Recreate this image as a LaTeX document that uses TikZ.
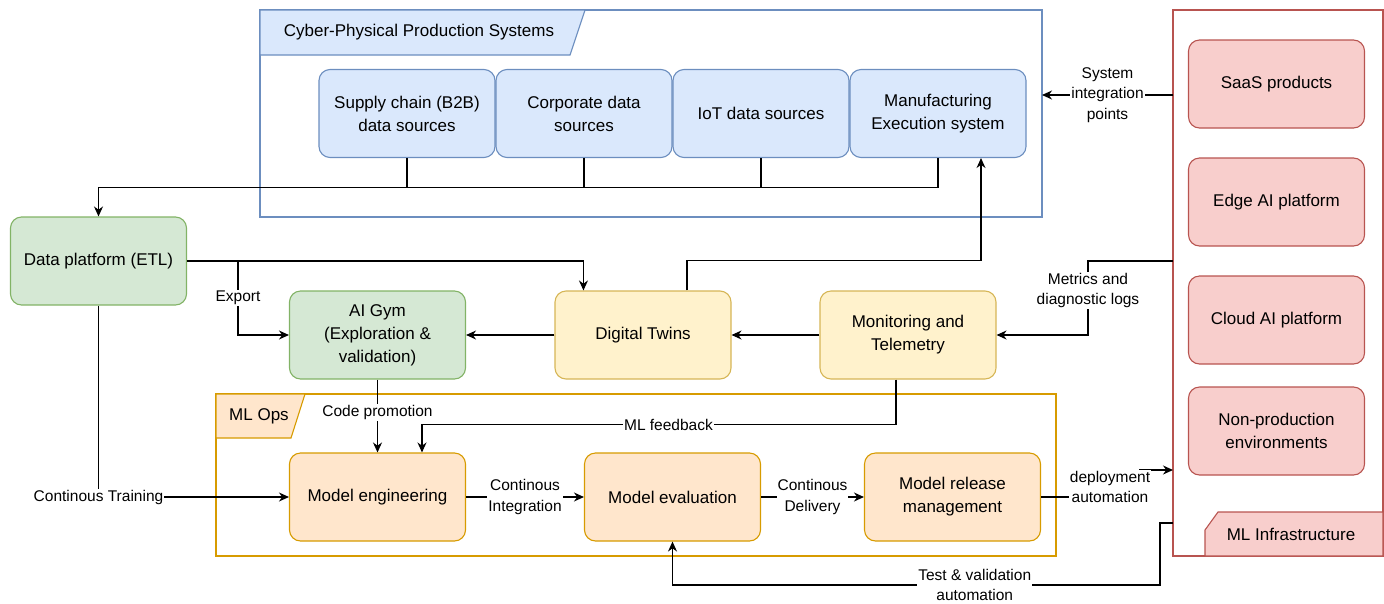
\documentclass[tikz,border=0pt]{standalone}
\usepackage{fontspec}
\setmainfont{Liberation Sans}
\usetikzlibrary{arrows.meta,positioning}

\definecolor{blueFill}{HTML}{DAE8FC}
\definecolor{blueLine}{HTML}{6C8EBF}
\definecolor{greenFill}{HTML}{D5E8D4}
\definecolor{greenLine}{HTML}{82B366}
\definecolor{yellowFill}{HTML}{FFF2CC}
\definecolor{yellowLine}{HTML}{D6B656}
\definecolor{orangeFill}{HTML}{FFE6CC}
\definecolor{orangeLine}{HTML}{D79B00}
\definecolor{redFill}{HTML}{F8CECC}
\definecolor{redLine}{HTML}{B85450}

\begin{document}
\begin{tikzpicture}[x=1pt,y=-1pt,>={Stealth[length=10pt,width=9pt]},
                    line width=1.2pt,node distance=177pt,
                    every node/.style={font=\fontsize{17}{23}\selectfont}]
  \tikzstyle{box}=[rectangle,rounded corners=11pt,draw,line width=1.1pt,
                   minimum width=176pt,minimum height=88pt,align=center]
  \tikzstyle{cpps}=[box,fill=blueFill,draw=blueLine]
  \tikzstyle{gym}=[box,fill=greenFill,draw=greenLine]
  \tikzstyle{twin}=[box,fill=yellowFill,draw=yellowLine]
  \tikzstyle{ops}=[box,fill=orangeFill,draw=orangeLine]
  \tikzstyle{infra}=[box,fill=redFill,draw=redLine]
  \tikzstyle{lbl}=[fill=white,inner sep=1pt,align=center,
                   font=\fontsize{15.5}{20.5}\selectfont]

  \useasboundingbox (0,0) rectangle (1384,603);

  % containers
  \draw[blueLine,line width=1.1pt] (260,10) rectangle (1042,217);
  \draw[blueLine,fill=blueFill,line width=1.1pt] (260,10) -- (585,10) -- (570,55) -- (260,55) -- cycle;
  \node (cppsTitle) at (419,32) {Cyber-Physical Production Systems};

  \draw[orangeLine,line width=1.1pt] (216,394) rectangle (1056,556);
  \draw[orangeLine,fill=orangeFill,line width=1.1pt] (216,394) -- (305,394) -- (291,438) -- (216,438) -- cycle;
  \node (opsTitle) at (259,416) {ML Ops};

  \draw[redLine,line width=1.1pt] (1173,10) rectangle (1383,556);
  \draw[redLine,fill=redFill,line width=1.1pt] (1218,512) -- (1383,512) -- (1383,556) -- (1205,556) -- (1205,530) -- cycle;
  \node (infraTitle) at (1291,534) {ML Infrastructure};

  % nodes
  \node[cpps] (sup) at (407,113.5) {Supply chain (B2B)\\data sources};
  \node[cpps] (corp) [right of=sup] {Corporate data\\sources};
  \node[cpps] (iot) [right of=corp] {IoT data sources};
  \node[cpps] (mes) [right of=iot] {Manufacturing\\Execution system};

  \node[gym] (dp) at (98.5,261) {Data platform (ETL)};
  \node[gym] (aigym) at (377.5,335) {AI Gym\\(Exploration \&\\validation)};
  \node[twin] (dt) at (643,335) {Digital Twins};
  \node[twin] (mon) at (908,335) {Monitoring and\\Telemetry};

  \node[ops] (eng) at (377.5,497) {Model engineering};
  \node[ops] (eval) at (672.5,497) {Model evaluation};
  \node[ops] (rel) at (952.5,497) {Model release\\management};

  \node[infra] (saas) at (1276.5,84) {SaaS products};
  \node[infra] (edge) [below of=saas,node distance=118pt] {Edge AI platform};
  \node[infra] (cloud) [below of=edge,node distance=118pt] {Cloud AI platform};
  \node[infra] (nonprod) at (1276.5,431) {Non-production\\environments};

  \coordinate (infraS) at (1173,95);
  \coordinate (cppsR) at (1042,95);
  \coordinate (infraM) at (1173,261);
  \coordinate (infraD) at (1173,470);
  \coordinate (infraT) at (1173,523);
  \coordinate (split) at (238,261);

  % data bus
  \draw (sup.south) -- ++(0,29.5);
  \draw (corp.south) -- ++(0,29.5);
  \draw (iot.south) -- ++(0,29.5);
  \draw[->] (mes.south) -- ++(0,29.5) -| (dp.north);

  % connectors
  \draw[->] (dp.east) -| ([xshift=29pt]dt.north west);
  \draw[->] (split) |- (aigym.west) node[lbl,pos=0.25] {Export};
  \draw[->] (dt.west) -- (aigym.east);
  \draw[->] (mon.west) -- (dt.east);
  \draw[->] ([xshift=44pt]dt.north) -- ++(0,-30) -| ([xshift=43pt]mes.south);
  \draw[->] (infraS) -- (cppsR) node[lbl,midway] {System\\integration\\points};
  \draw[->] (infraM) -- (1088,261) |- (mon.east) node[lbl,pos=0.2] {Metrics and\\diagnostic logs};
  \draw[->] ([xshift=-12pt]mon.south) -- ++(0,45) -| ([xshift=44.5pt]eng.north)
        node[lbl,pos=0.24] {ML feedback};
  \draw[->] (aigym.south) -- (eng.north) node[lbl,pos=0.45] {Code promotion};
  \draw[->] (dp.south) |- (eng.west) node[lbl,pos=0.5] {Continous Training};
  \draw[->] (eng.east) -- (eval.west) node[lbl,midway] {Continous\\Integration};
  \draw[->] (eval.east) -- (rel.west) node[lbl,midway] {Continous\\Delivery};
  \draw[->] (rel.east) -- (1140,497) |- (infraD);
  \node[lbl] (deploy) at (1110,487) {deployment\\automation};
  \draw[->] (infraT) -- (1160,523) -- (1160,585) -| (eval.south)
        node[lbl,pos=0.19] {Test \& validation\\automation};
\end{tikzpicture}
\end{document}
